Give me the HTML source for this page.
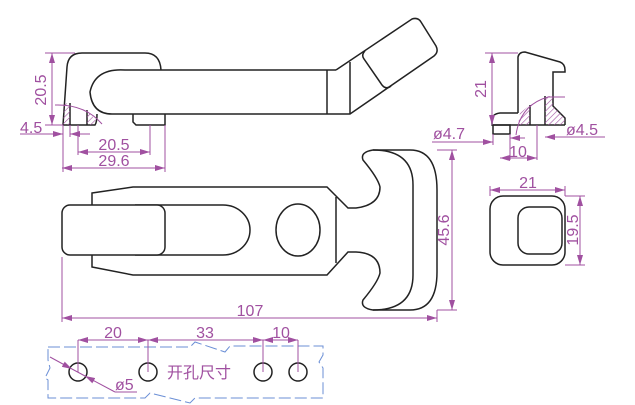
<!DOCTYPE html>
<html><head><meta charset="utf-8"><style>body{margin:0;background:#fff}svg{display:block}</style></head><body>
<svg width="635" height="405" viewBox="0 0 635 405" xmlns="http://www.w3.org/2000/svg" font-family="Liberation Sans, Noto Sans CJK SC, sans-serif">
<defs><pattern id="h" width="4" height="4" patternUnits="userSpaceOnUse" patternTransform="rotate(45)"><line x1="0" y1="0" x2="0" y2="4" stroke="#a050a0" stroke-width="1.2"/></pattern>
<marker id="a" viewBox="0 0 10 6" refX="10" refY="3" markerWidth="10" markerHeight="6" orient="auto-start-reverse" markerUnits="userSpaceOnUse"><path d="M0,0 L10,3 L0,6 Z" fill="#a050a0"/></marker></defs>
<g fill="none" stroke="#222" stroke-width="1.5">
<path d="M63,125 L67,67 Q68,53 82,53 L145,53 Q160,53 161,70"/>
<path d="M327,70 L125,70 Q95,68 90,92 Q92,114 112,114 L327,114"/>
<path d="M63,125 L95,125 Q97,122 97,114"/>
<path d="M133,114 L133,122 L136,125 L165,125 L165,114"/>
<line x1="327" y1="70" x2="327" y2="114"/>
<line x1="70" y1="103" x2="70" y2="125"/>
<line x1="87" y1="110" x2="87" y2="125"/>
<path d="M336,70 L412,19 Q418,17 421,22 L436,46 Q439,52 434,56 L350,114 L327,114"/>
<line x1="327" y1="70" x2="336" y2="70"/>
<line x1="350" y1="62" x2="350" y2="114"/>
<path d="M365,51 Q361,55 364,59 L382,85 Q386,90 391,86"/>
<path d="M518,113 L518,57 Q519,52 525,52 L560,62 Q565,64 565,70 L565,72 L553,72 L553,96"/>
<path d="M565,125 L565,118 L553,106 L553,96"/>
<path d="M545,96 L545,125"/>
<path d="M530,105 L530,125"/>
<path d="M518,113 L500,113 Q492,114 492,120 L492,125 L565,125"/>
<rect x="493" y="125" width="17" height="9"/>
<rect x="490" y="196" width="75" height="69" rx="13"/>
<rect x="518" y="207" width="44" height="47" rx="11"/>
<path d="M92,193 L133,187 L327,187 L348,208 L356,208 Q380,205 380,187 Q378,178 363,160 Q360,152 373,150 L410,150 Q437,150 437,190 L437,272 Q437,310 410,310 L373,310 Q360,308 363,300 Q378,282 380,273 Q380,253 356,252 L348,252 L327,275 L133,275 L92,267 Z"/>
<line x1="336" y1="197" x2="336" y2="263"/>
<path d="M373,150 Q413,150 413,185 L413,275 Q413,310 373,310"/>
<path d="M135,205 L223,205 A27,25 0 0 1 223,255 L135,255"/>
<rect x="62" y="205" width="103" height="50" rx="8" fill="#fff"/>
<ellipse cx="298" cy="230" rx="22" ry="26"/>
<circle cx="78" cy="372" r="9"/><circle cx="148" cy="372" r="9"/><circle cx="263" cy="372" r="9"/><circle cx="298" cy="372" r="9"/>
</g>
<g fill="url(#h)" stroke="none">
<path d="M63,125 L64,103 L70,104 L70,125 Z"/>
<path d="M87,110 L90,113 L97,122 L95,125 L87,125 Z"/>
<path d="M530,105 L530,125 L518,125 L520,113 Z"/>
<path d="M545,96 L553,96 L553,106 L565,118 L565,125 L545,125 Z"/>
</g>
<path d="M48,347 L190,347 L195,342 L225,352 L230,346 L323,346 L323,355 L319,362 L323,368 L323,398 L195,398 L190,403 L150,393 L145,398 L48,398 L48,380 L45,378 L50,368 L48,360 Z" fill="none" stroke="#6b8fd6" stroke-width="1" stroke-dasharray="12,4"/>
<g stroke="#a050a0" stroke-width="1" fill="none">
<path d="M45,53 L75,53 M45,125 L63,125 M63,125 L63,172 M70,125 L70,137 M78,125 L78,155 M150,125 L150,155 M165,125 L165,172"/>
<path d="M55,105 Q85,104 102,124"/>
<path d="M485,53 L518,53 M493,134 L493,145 M510,134 L510,160 M537,125 L537,160 M545,137 L605,137"/>
<path d="M516,135 Q520,105 548,97 L565,97"/>
<path d="M490,186 L490,196 M565,186 L565,196 M565,196 L585,196 M565,265 L585,265"/>
<path d="M437,150 L457,150 M437,310 L457,310 M62,257 L62,322 M437,310 L437,322"/>
<path d="M78,340 L78,372 M148,340 L148,372 M263,340 L263,372 M298,340 L298,372"/>
<path d="M115,392 L137,392"/>
<g marker-end="url(#a)" marker-start="url(#a)">
<line x1="52" y1="53" x2="52" y2="125"/>
<line x1="78" y1="152" x2="150" y2="152"/>
<line x1="62" y1="168" x2="165" y2="168"/>
<line x1="492" y1="53" x2="492" y2="125"/>
<line x1="490" y1="190" x2="565" y2="190"/>
<line x1="580" y1="196" x2="580" y2="265"/>
<line x1="452" y1="150" x2="452" y2="310"/>
<line x1="62" y1="318" x2="437" y2="318"/>
<line x1="78" y1="340" x2="148" y2="340"/>
<line x1="148" y1="340" x2="263" y2="340"/>
<line x1="263" y1="340" x2="298" y2="340"/>
<line x1="500" y1="158" x2="537" y2="158"/>
</g>
<g marker-end="url(#a)">
<line x1="20" y1="134" x2="63" y2="134"/>
<line x1="90" y1="134" x2="70" y2="134"/>
<line x1="432" y1="142" x2="493" y2="142"/>
<line x1="525" y1="138" x2="510" y2="138"/>
<line x1="605" y1="137" x2="545" y2="137"/>
<line x1="50" y1="357" x2="72" y2="369"/>
<line x1="115" y1="392" x2="85" y2="376"/>
</g>
<line x1="72" y1="369" x2="85" y2="376"/>
</g>
<g fill="#a050a0" font-size="16">
<text x="46" y="90" transform="rotate(-90 46 90)" text-anchor="middle">20.5</text>
<text x="20" y="133">4.5</text>
<text x="114" y="150" text-anchor="middle">20.5</text>
<text x="114" y="166" text-anchor="middle">29.6</text>
<text x="486" y="89" transform="rotate(-90 486 89)" text-anchor="middle">21</text>
<text x="433" y="139">ø4.7</text>
<text x="566" y="135">ø4.5</text>
<text x="518" y="157" text-anchor="middle">10</text>
<text x="528" y="188" text-anchor="middle">21</text>
<text x="578" y="230" transform="rotate(-90 578 230)" text-anchor="middle">19.5</text>
<text x="449" y="230" transform="rotate(-90 449 230)" text-anchor="middle">45.6</text>
<text x="250" y="316" text-anchor="middle">107</text>
<text x="113" y="338" text-anchor="middle">20</text>
<text x="205" y="338" text-anchor="middle">33</text>
<text x="281" y="338" text-anchor="middle">10</text>
<text x="167" y="378" font-size="16">开孔尺寸</text>
<text x="115" y="390">ø5</text>
</g>
</svg>
</body></html>
